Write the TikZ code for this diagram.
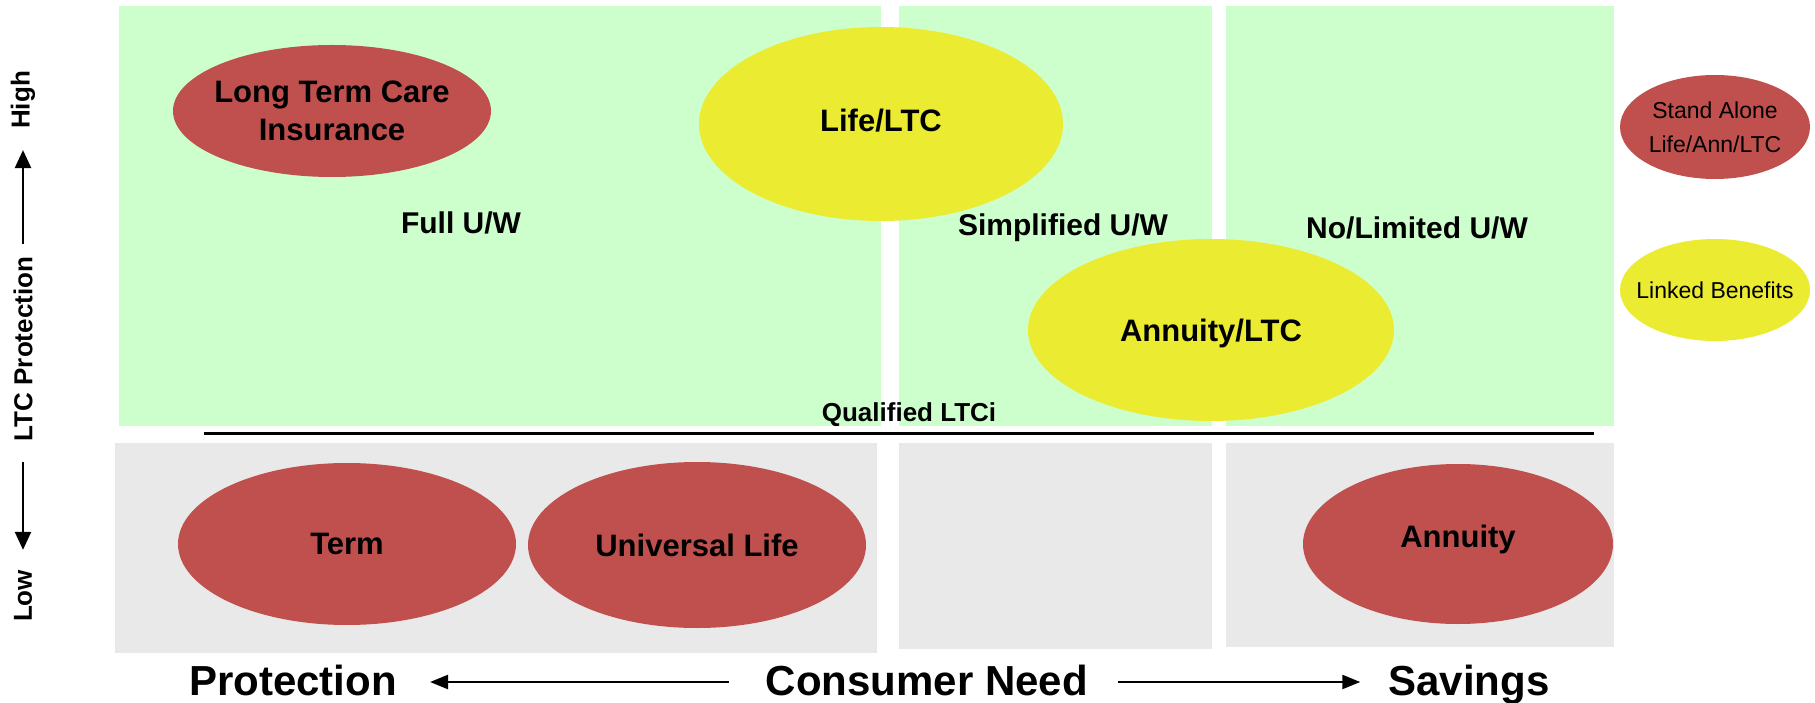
\documentclass[tikz,border=0pt]{standalone}
\usepackage{fontspec}
\setmainfont{Liberation Sans}
\usetikzlibrary{arrows.meta,shapes.geometric}
\definecolor{zonegreen}{HTML}{CCFFCC}
\definecolor{zonegray}{HTML}{E9E9E9}
\definecolor{standred}{HTML}{C0504D}
\definecolor{linkyellow}{HTML}{EBEB32}
\tikzset{
  blob/.style={ellipse, inner sep=0pt, outer sep=0pt},
  stand/.style={blob, fill=standred},
  linked/.style={blob, fill=linkyellow},
  prodtext/.style={inner sep=0pt, align=center,
    font=\bfseries\fontsize{31}{38}\selectfont},
  legendtext/.style={inner sep=0pt, align=center,
    font=\fontsize{23}{34}\selectfont},
  zonelabel/.style={inner sep=0pt, font=\bfseries\fontsize{30}{36}\selectfont},
  axislabel/.style={inner sep=0pt, rotate=90, font=\bfseries\fontsize{26}{30}\selectfont},
  needlabel/.style={inner sep=0pt, anchor=base, font=\bfseries\fontsize{42}{48}\selectfont},
  vtip/.style={line width=2.4pt, -{Triangle[length=18pt,width=16pt]}},
  htip/.style={line width=2.4pt, -{Triangle[length=18pt,width=14pt]}}
}
\begin{document}
\begin{tikzpicture}[x=1pt,y=-1pt]
\useasboundingbox (0,0) rectangle (1815,703);

% underwriting zones
\fill[zonegreen] (119,6) rectangle (881,426);
\fill[zonegreen] (899,6) rectangle (1212,426);
\fill[zonegreen] (1226,6) rectangle (1614,426);
\fill[zonegray] (115,443) rectangle (877,653);
\fill[zonegray] (899,443) rectangle (1212,649);
\fill[zonegray] (1226,443) rectangle (1614,647);

% zone labels
\node[zonelabel] (full) at (461,223) {Full U/W};
\node[zonelabel] (simp) at (1063,228) {Simplified U/W};
\node[zonelabel] (nolim) at (1417,228) {No/Limited U/W};

% qualified LTCi boundary
\coordinate (qL) at (204,433);
\coordinate (qR) at (1594,433);
\draw[line width=3pt] (qL) -- (qR);
\node[inner sep=0pt, font=\bfseries\fontsize{26}{30}\selectfont] (qual) at (909,415) {Qualified LTCi};

% products
\node[stand, minimum width=318pt, minimum height=132pt] (ltci) at (332,111) {};
\node[prodtext] (ltcitext) at (ltci) {Long Term Care\\Insurance};
\node[linked, minimum width=364pt, minimum height=194pt] (lifeltc) at (881,124) {};
\node[prodtext] (lifeltctext) at (881,121) {Life/LTC};
\node[linked, minimum width=366pt, minimum height=182pt] (annltc) at (1211,330) {};
\node[prodtext] (annltctext) at (1211,333) {Annuity/LTC};
\node[stand, minimum width=338pt, minimum height=162pt] (term) at (347,544) {};
\node[prodtext] (termtext) at (term) {Term};
\node[stand, minimum width=338pt, minimum height=166pt] (ul) at (697,545) {};
\node[prodtext] (ultext) at (ul) {Universal Life};
\node[stand, minimum width=310pt, minimum height=160pt] (ann) at (1458,544) {};
\node[prodtext] (anntext) at (1458,539) {Annuity};

% legend
\node[stand, minimum width=190pt, minimum height=104pt] (legsa) at (1715,127) {};
\node[legendtext] (legsatext) at (legsa) {Stand Alone\\Life/Ann/LTC};
\node[linked, minimum width=190pt, minimum height=102pt] (leglb) at (1715,290) {};
\node[legendtext] (leglbtext) at (1715,290) {Linked Benefits};

% vertical axis
\node[axislabel] (high) at (23,100) {High};
\node[axislabel] (ltcp) at (23,349) {LTC Protection};
\node[axislabel] (low) at (23,596) {Low};
\draw[vtip] ([yshift=13pt]ltcp.east) -- ([yshift=-21pt]high.west);
\draw[vtip] ([yshift=-21pt]ltcp.west) -- ([yshift=20pt]low.east);

% horizontal axis
\node[needlabel] (prot) at (293,695) {Protection};
\node[needlabel] (need) at (927,695) {Consumer Need};
\node[needlabel] (sav) at (1469,695) {Savings};
\draw[htip] ([xshift=-37pt,yshift=13pt]need.base west) -- ([xshift=33pt,yshift=13pt]prot.base east);
\draw[htip] ([xshift=30pt,yshift=13pt]need.base east) -- ([xshift=-28pt,yshift=13pt]sav.base west);
\end{tikzpicture}
\end{document}
